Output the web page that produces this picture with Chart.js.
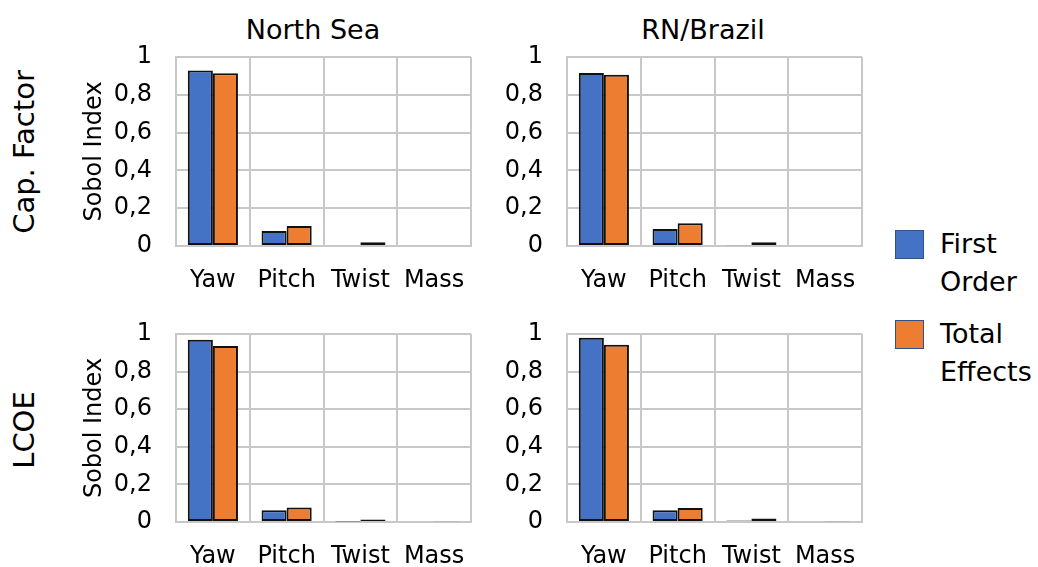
<!DOCTYPE html>
<html>
<head>
<meta charset="utf-8">
<script src="https://cdn.jsdelivr.net/npm/chart.js@4"></script>
<style>
  body { margin: 0; background: #fff; overflow: hidden; }
  #wrap { position: relative; width: 1038px; height: 567px; font-family: 'DejaVu Sans', sans-serif; color: #000; }
  canvas { position: absolute; }
  .lbl { position: absolute; white-space: nowrap; font-size: 27px; line-height: 1; }
  .row { font-size: 29px; }
  .rot { transform: translate(-50%, -50%) rotate(-90deg); }
  .ctr { transform: translate(-50%, -50%); }
  .legend-item { position: absolute; left: 895px; }
  .legend-box { position: absolute; width: 27px; height: 27px; border: 1.5px solid #2F528F; }
  .legend-text { position: absolute; left: 45px; font-size: 27px; line-height: 38px; white-space: nowrap; }
</style>
</head>
<body>
<div id="wrap">
  <div class="lbl ctr" style="left:313px; top:29px;">North Sea</div>
  <div class="lbl ctr" style="left:703px; top:29px;">RN/Brazil</div>
  <div class="lbl row rot" style="left:24px; top:152px;">Cap. Factor</div>
  <div class="lbl row rot" style="left:24px; top:430px;">LCOE</div>

  <canvas id="capNorth" width="400" height="261" style="left:80px; top:30px;"></canvas>
  <canvas id="capBrazil" width="400" height="261" style="left:480px; top:30px;"></canvas>
  <canvas id="lcoeNorth" width="400" height="260" style="left:80px; top:307px;"></canvas>
  <canvas id="lcoeBrazil" width="400" height="260" style="left:480px; top:307px;"></canvas>

  <div id="legend"></div>
</div>
<script>
// Sobol indices
const categories = ['Yaw', 'Pitch', 'Twist', 'Mass'];
const seriesLabels = ['First Order', 'Total Effects'];
const seriesColors = ['#4472C4', '#ED7D31'];
const yTickValues = [0, 0.2, 0.4, 0.6, 0.8, 1];

const capNorthFirst = [0.928, 0.079, 0.005, 0];
const capNorthTotal = [0.914, 0.106, 0.020, 0.005];
const capBrazilFirst = [0.915, 0.090, 0.004, 0];
const capBrazilTotal = [0.906, 0.120, 0.020, 0.005];
const lcoeNorthFirst = [0.970, 0.062, 0.003, 0];
const lcoeNorthTotal = [0.936, 0.077, 0.013, 0.004];
const lcoeBrazilFirst = [0.980, 0.062, 0.008, 0];
const lcoeBrazilTotal = [0.943, 0.075, 0.018, 0.004];

Chart.defaults.font.family = "'DejaVu Sans', sans-serif";
Chart.defaults.color = '#000';

const gridColor = '#c8c8c8';

// comma decimal like the original
const fmtTick = (v) => {
    if (!yTickValues.some(t => Math.abs(t - v) < 1e-9)) return '';
    return v === 0 ? '0' : v === 1 ? '1' : v.toFixed(1).replace('.', ',');
};

function makePanel(id, first, total, showYTitle) {
    const yWidth = showYTitle ? 96 : 87;
    const padRight = showYTitle ? 9 : 18;
    return new Chart(document.getElementById(id), {
        type: 'bar',
        data: {
            labels: categories,
            datasets: [first, total].map((d, i) => ({
                label: seriesLabels[i],
                data: d,
                backgroundColor: seriesColors[i],
                borderColor: '#111',
                borderWidth: 2,
                borderSkipped: false,
                categoryPercentage: 0.68,
                barPercentage: 1
            }))
        },
        options: {
            responsive: false,
            animation: false,
            devicePixelRatio: 1,
            layout: { padding: { top: 27, right: padRight, left: 0, bottom: 0 } },
            plugins: {
                legend: { display: false },
                tooltip: { enabled: false }
            },
            scales: {
                x: {
                    grid: { color: gridColor, lineWidth: 2, drawTicks: false, offset: true },
                    border: { color: gridColor, width: 2 },
                    ticks: { font: { size: 24 }, padding: 20, maxRotation: 0 },
                    afterFit: (s) => {
                        s.height = 45;
                        s.paddingLeft = 0;
                        s.paddingRight = 0;
                    }
                },
                y: {
                    min: 0,
                    max: 1,
                    grid: { color: gridColor, lineWidth: 2, drawTicks: false },
                    border: { color: gridColor, width: 2 },
                    ticks: { stepSize: 0.2, font: { size: 24 }, padding: 24, callback: fmtTick },
                    title: {
                        display: showYTitle,
                        text: 'Sobol Index',
                        font: { size: 24 },
                        padding: { top: 0, bottom: 0 }
                    },
                    afterFit: (s) => {
                        s.width = yWidth;
                        s.paddingTop = 0;
                        s.paddingBottom = 0;
                    }
                }
            }
        }
    });
}

makePanel('capNorth', capNorthFirst, capNorthTotal, true);
makePanel('capBrazil', capBrazilFirst, capBrazilTotal, false);
makePanel('lcoeNorth', lcoeNorthFirst, lcoeNorthTotal, true);
makePanel('lcoeBrazil', lcoeBrazilFirst, lcoeBrazilTotal, false);

// legend, two lines per entry like the original
const legend = document.getElementById('legend');
const legendTops = [225, 315];
seriesLabels.forEach((name, i) => {
    const item = document.createElement('div');
    item.className = 'legend-item';
    item.style.top = legendTops[i] + 'px';
    const box = document.createElement('div');
    box.className = 'legend-box';
    box.style.background = seriesColors[i];
    box.style.top = '5px';
    const txt = document.createElement('div');
    txt.className = 'legend-text';
    txt.innerHTML = name.split(' ').join('<br>');
    item.appendChild(box);
    item.appendChild(txt);
    legend.appendChild(item);
});
</script>
</body>
</html>
